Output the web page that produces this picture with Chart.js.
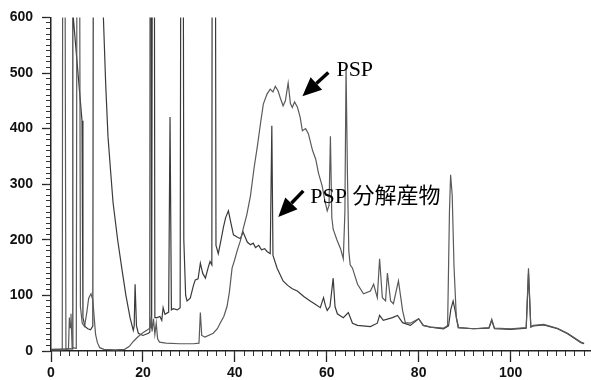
<!DOCTYPE html>
<html><head><meta charset="utf-8">
<script src="https://cdn.jsdelivr.net/npm/chart.js@4"></script>
<style>html,body{margin:0;padding:0;background:#fff}</style>
</head><body>
<canvas id="c" width="591" height="380"></canvas>
<script>
// ---- data (retention time, detector signal) ----
const pspTime = [0,2.45,2.7,3.25,3.8,4.0,4.15,4.35,4.6,5.5,5.9,6.4,6.8,7.3,7.8,8.2,8.7,9.1,9.4,9.7,10.1,10.6,11.5,14,16,17,18,19,20,21,21.6,21.8,22.0,22.3,22.6,22.9,23.2,23.6,25,28,31,32.2,32.5,32.8,33.5,35.3,36.2,36.8,37.6,38.3,38.8,39.4,40.0,40.5,41.2,41.8,42.6,43.4,44.2,44.9,45.6,46.2,47.0,47.7,48.3,48.8,49.4,49.9,50.5,51.0,51.6,52.1,52.5,53.0,53.6,54.2,54.7,55.4,56.0,56.9,57.6,58.2,59.0,59.6,60.1,60.5,60.8,61.1,61.4,62.2,63.0,63.6,63.95,64.2,64.5,64.8,65.1,65.6,66.7,68.0,69.5,70.2,71.0,71.5,72.1,72.8,73.2,73.9,74.5,75.6,76.5,77.1,78.2,80.0,81.0,82.6,85.4,86.3,86.7,86.95,87.3,87.7,88.2,88.7,92,95.3,95.9,96.5,100,103.4,103.9,104.4,105,107.2,110.2,112.4,115.3,116];
const pspSignal = [2,2,2000,3,4,60,42,67,6,5,2000,80,50,44,70,95,103,92,60,30,15,6,3,2,3,8,18,26,33,38,42,62,35,58,30,50,22,16,14,13,13,14,69,28,25,32,40,50,62,80,105,149,165,180,198,219,245,279,330,368,410,444,462,471,466,476,468,455,441,450,482,445,438,448,439,421,396,400,391,361,345,320,297,270,252,262,386,240,219,200,184,166,250,510,320,180,155,149,120,103,108,120,96,166,96,90,140,90,85,126,73,51,50,58,46,43,41,46,250,317,280,150,60,42,40,42,57,41,40,42,149,44,46,48,41,32,16,14];

const degTime = [0,4.6,4.75,6.75,6.95,7.4,8.0,8.6,9.1,9.4,10.9,11.4,11.9,12.4,13.0,13.5,14.5,15.4,16.3,17.2,17.9,18.1,18.3,18.6,19.0,20,21.2,21.5,21.7,21.9,22.3,22.6,23.1,23.7,24.1,24.4,24.8,25.6,25.9,26.2,26.6,27.5,28.1,28.5,28.9,29.3,29.6,30.3,31.0,31.4,32.0,32.5,33.0,33.6,34.2,34.6,35.0,35.2,35.5,35.9,36.4,37.0,37.5,38.0,38.6,39.2,39.7,40.5,41.2,41.8,42.7,43.4,44.0,44.5,45.2,45.8,46.5,47.0,47.7,48.05,48.3,49.2,50.5,51.5,52.5,53.6,55,56.4,57.5,58.6,59.3,59.7,60.1,60.7,61.4,61.8,62.3,63.6,64.7,65.6,66.7,69.5,71.0,71.5,72.3,74.3,75.4,76.5,78.2,80.0,81.0,82.6,85.4,86.5,87.0,87.5,88.0,88.6,92,95.3,95.9,96.5,100,103.4,103.9,104.4,105,107.2,110.2,112.4,115.3,116];
const degSignal = [3,4,610,414,60,44,40,38,45,2000,2000,600,480,386,320,267,200,149,100,60,37,45,120,45,32,28,32,34,2000,40,2000,60,60,62,55,78,66,70,421,74,76,74,78,2000,200,100,90,95,118,128,130,158,140,131,150,161,155,2000,2000,190,175,200,222,240,252,228,209,205,202,214,196,191,194,186,190,182,184,179,175,405,172,149,126,118,112,108,98,90,84,78,96,82,73,80,131,80,67,60,69,50,46,44,50,64,55,60,64,51,46,58,46,43,40,45,75,90,70,42,40,41,55,40,39,41,140,43,45,47,40,31,15,13];

const xTickLabels = [0,20,40,60,80,100];
const yTickLabels = [0,100,200,300,400,500,600];
const seriesNames = ['PSP','PSP 分解産物'];

// annotation placement (in data units)
const notes = [
  {text: seriesNames[0], at:[62.1,494], tail:[60.35,501], tip:[54.7,458]},
  {text: seriesNames[1], at:[56.4,267], tail:[54.9,288], tip:[49.45,241]}
];

const toPts = (t, s) => t.map((v, i) => ({x: v, y: s[i]}));
const range = (a, b, st) => { const r = []; for (let v = a; v <= b + 1e-9; v += st) r.push({value: +v.toFixed(4)}); return r; };
const tickFont = {family: '"Liberation Sans Narrow","Liberation Sans",Arial,sans-serif', size: 14, weight: 'bold'};

const notePlugin = {
  id: 'notes',
  afterDatasetsDraw(chart) {
    const ctx = chart.ctx, xs = chart.scales.x, ys = chart.scales.y;
    ctx.save();
    ctx.fillStyle = '#000'; ctx.strokeStyle = '#000';
    ctx.font = '22px "Liberation Serif","Noto Sans CJK JP",serif';
    ctx.textBaseline = 'alphabetic';
    for (const n of notes) {
      ctx.fillText(n.text, xs.getPixelForValue(n.at[0]), ys.getPixelForValue(n.at[1]));
      const x1 = xs.getPixelForValue(n.tail[0]), y1 = ys.getPixelForValue(n.tail[1]);
      const x2 = xs.getPixelForValue(n.tip[0]), y2 = ys.getPixelForValue(n.tip[1]);
      const ang = Math.atan2(y2 - y1, x2 - x1), hl = 19, hw = 8.5;
      const bx = x2 - hl * Math.cos(ang), by = y2 - hl * Math.sin(ang);
      ctx.lineWidth = 3.5;
      ctx.beginPath(); ctx.moveTo(x1, y1); ctx.lineTo(bx, by); ctx.stroke();
      ctx.beginPath();
      ctx.moveTo(x2, y2);
      ctx.lineTo(bx + hw * Math.sin(ang), by - hw * Math.cos(ang));
      ctx.lineTo(bx - hw * Math.sin(ang), by + hw * Math.cos(ang));
      ctx.closePath(); ctx.fill();
    }
    ctx.restore();
  }
};

new Chart(document.getElementById('c'), {
  type: 'line',
  data: {
    datasets: [
      {label: seriesNames[0], data: toPts(pspTime, pspSignal), borderColor: '#5a5a5a', borderWidth: 1.2, pointRadius: 0, tension: 0},
      {label: seriesNames[1], data: toPts(degTime, degSignal), borderColor: '#3a3a3a', borderWidth: 1.2, pointRadius: 0, tension: 0}
    ]
  },
  options: {
    responsive: false, animation: false, devicePixelRatio: 1,
    layout: {padding: {top: 12, right: 0, left: 0, bottom: 0}},
    plugins: {legend: {display: false}, tooltip: {enabled: false}},
    scales: {
      x: {type: 'linear', min: 0, max: 117.5, position: 'bottom', weight: 1,
        afterBuildTicks: s => { s.ticks = xTickLabels.map(v => ({value: v})); },
        afterFit: s => { s.height = 29; },
        grid: {drawOnChartArea: false, tickLength: 11, color: '#222', tickWidth: 1.3},
        border: {display: true, color: '#222', width: 1.5},
        ticks: {font: tickFont, color: '#111', padding: 3, maxRotation: 0, autoSkip: false}},
      x2: {type: 'linear', min: 0, max: 117.5, position: 'bottom', weight: 0,
        afterBuildTicks: s => { s.ticks = range(0, 116, 2); },
        afterFit: s => { s.height = 0; },
        grid: {drawOnChartArea: false, tickLength: 5, color: '#333'},
        border: {display: false}, ticks: {display: false}},
      y: {type: 'linear', min: 0, max: 600, position: 'left', weight: 1,
        afterBuildTicks: s => { s.ticks = yTickLabels.map(v => ({value: v})); },
        afterFit: s => { s.width = 51; },
        grid: {drawOnChartArea: false, tickLength: 9, color: '#222', tickWidth: 1.3},
        border: {display: true, color: '#222', width: 1.5},
        ticks: {font: tickFont, color: '#111', padding: 9, autoSkip: false}},
      y2: {type: 'linear', min: 0, max: 600, position: 'left', weight: 0,
        afterBuildTicks: s => { s.ticks = range(0, 600, 10); },
        afterFit: s => { s.width = 0; },
        grid: {drawOnChartArea: false, tickLength: 5, color: '#333'},
        border: {display: false}, ticks: {display: false}}
    }
  },
  plugins: [notePlugin]
});
</script>
</body></html>
